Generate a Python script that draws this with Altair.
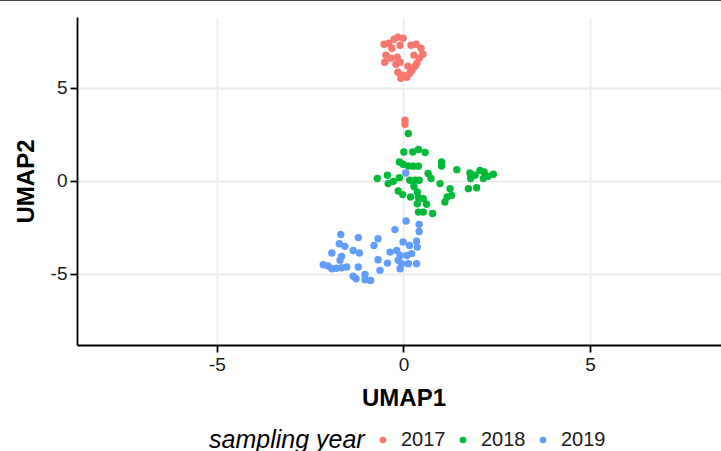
import altair as alt
import pandas as pd

# sampling year 2017
x17 = [-0.52, -0.39, -0.25, -0.15, -0.01, -0.09, -0.31, -0.47, -0.50, -0.34, -0.17, -0.09, -0.20,
       0.20, 0.34, 0.47, 0.52, 0.42, 0.28, 0.36, 0.23, 0.12, -0.15, -0.01, 0.09, -0.07, 0.17, 0.31,
       0.04, 0.04]
y17 = [7.34, 7.39, 7.61, 7.72, 7.66, 7.28, 7.12, 6.75, 6.37, 6.59, 6.64, 6.37, 6.26,
       7.28, 7.34, 7.12, 6.80, 6.59, 6.75, 6.32, 5.94, 6.16, 5.83, 5.67, 5.56, 5.51, 5.78, 6.16,
       3.25, 3.04]

# sampling year 2018
x18 = [0.13, 0.01, 0.25, 0.40, 0.58, -0.11, -0.01, 0.13, 0.26, 0.40, 1.02, 1.02, 1.43,
       -0.70, -0.43, -0.27, -0.41, -0.11, 0.17, 0.31, 0.42, 0.66, 0.74, 0.98, 1.25,
       1.78, 1.80, 1.92, 2.05, 2.16, 2.27, 2.41, 2.14, 1.96, 1.74,
       -0.14, -0.02, 0.19, 0.37, 0.40, 0.53, 0.62, 0.37, 0.53, 0.40, 0.78, 1.11, 1.17, 1.29, 0.28]
y18 = [2.54, 1.55, 1.55, 1.68, 1.52, 1.01, 0.89, 0.80, 0.78, 0.78, 1.01, 0.80, 0.60,
       0.12, 0.30, -0.03, -0.15, 0.17, 0.03, 0.03, 0.03, 0.39, 0.12, -0.15, -0.42,
       0.42, 0.12, 0.30, 0.56, 0.47, 0.24, 0.35, 0.12, -0.37, -0.42,
       -0.55, -0.74, -0.87, -0.60, -0.90, -0.96, -1.26, -1.23, -1.68, -1.68, -1.76, -1.14, -0.87, -0.78, -0.30]

# sampling year 2019
x19 = [0.06, 0.07, -0.23, 0.42, 0.42, -1.68, -1.21, -0.68, -1.72, -1.57, -1.35, -1.18, -0.79,
       -0.01, 0.16, 0.35, 0.37, -1.92, -1.66, -1.70, -0.36, -0.18, -0.09, -0.14, -0.05, -0.09,
       0.09, 0.22, 0.13, 0.35, -0.68, -0.43, -0.63, -2.15, -1.92, -1.66, -1.52, -1.21,
       -1.35, -1.27, -1.03, -1.03, -0.88, -2.02, -1.80]
y19 = [0.42, -2.16, -2.62, -2.34, -2.72, -2.88, -3.05, -3.11, -3.38, -3.52, -3.74, -3.88, -3.47,
       -3.29, -3.47, -3.24, -3.56, -3.88, -4.06, -4.27, -3.83, -3.74, -4.01, -4.27, -4.45, -4.72,
       -4.01, -3.91, -4.45, -4.45, -4.24, -4.42, -4.81, -4.51, -4.72, -4.67, -4.63, -4.63,
       -5.13, -5.26, -5.03, -5.31, -5.35, -4.58, -4.70]

years = ["2017", "2018", "2019"]
colors = ["#F8766D", "#00BA38", "#619CFF"]
tick_values = [-5, 0, 5]

rows = []
for yr, xs, ys in zip(years, [x17, x18, x19], [y17, y18, y19]):
    for a, b in zip(xs, ys):
        rows.append({"UMAP1": a, "UMAP2": b, "year": yr})
df = pd.DataFrame(rows)

FONT = "Liberation Sans"

points = alt.Chart(df).mark_circle(size=55, opacity=1).encode(
    x=alt.X("UMAP1:Q",
            scale=alt.Scale(domain=[-8.75, 8.51], nice=False, zero=False),
            axis=alt.Axis(values=tick_values, title="UMAP1", titleBaseline="alphabetic",
                          titleY=60, titleX=326.5, titleAnchor="middle",
                          labelExpr="'' + datum.value")),
    y=alt.Y("UMAP2:Q",
            scale=alt.Scale(domain=[-8.82, 8.8], nice=False, zero=False),
            axis=alt.Axis(values=tick_values, title="UMAP2", titleBaseline="alphabetic",
                          titleX=-44, labelExpr="'' + datum.value")),
    color=alt.Color("year:N",
                    scale=alt.Scale(domain=years, range=colors),
                    legend=alt.Legend(title="sampling year", orient="none",
                                      direction="horizontal", legendX=132, legendY=413,
                                      titleOrient="left")),
)

top_line = alt.Chart(df).mark_rule(color="#4a4a4a", strokeWidth=2).encode(
    x=alt.value(-77), x2=alt.value(644), y=alt.value(-17)
).transform_filter("datum.year == '2017'").transform_aggregate(n="count()")

chart = alt.layer(top_line, points).properties(
    width=644, height=328,
    autosize=alt.AutoSizeParams(type="none"),
    padding={"left": 77, "top": 17, "right": 0, "bottom": 106},
).configure_view(stroke="transparent").configure_axis(
    domainColor="black", domainWidth=1.8,
    tickColor="black", tickWidth=1.8, tickSize=7,
    gridColor="#ebebeb", gridWidth=1.8,
    labelFont=FONT, labelFontSize=19, labelColor="#1a1a1a", labelPadding=3,
    titleFont=FONT, titleFontSize=24, titleFontWeight="bold", titleColor="black",
).configure_legend(
    titleFont=FONT, titleFontSize=25, titleFontStyle="italic", titleFontWeight="normal",
    titleColor="black", titlePadding=8, titleBaseline="middle",
    labelFont=FONT, labelFontSize=20, labelColor="#1a1a1a", labelOffset=8,
    symbolType="circle", symbolSize=44, symbolStrokeWidth=0, symbolOpacity=1,
    columnPadding=7,
)

chart.save("out.html", embed_options={"renderer": "svg", "actions": False})
